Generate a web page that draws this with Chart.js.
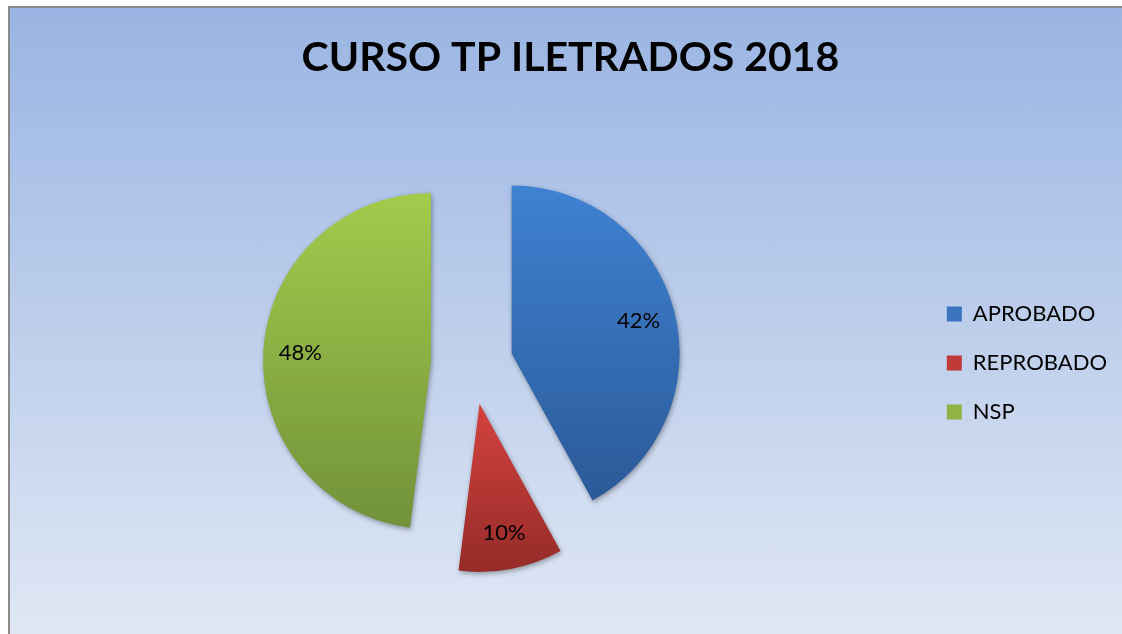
<!DOCTYPE html>
<html>
<head>
<meta charset="utf-8">
<script src="https://cdn.jsdelivr.net/npm/chart.js@4.4.1/dist/chart.umd.min.js"></script>
<style>
  html, body { margin: 0; padding: 0; overflow: hidden; background: #fff; }
  #frame {
    position: fixed; left: 8px; top: 6px; right: -30px; bottom: -30px;
    border-left: 2px solid #8a8a8a; border-top: 2px solid #8a8a8a;
    background: linear-gradient(to bottom, #9ab5e3 0%, #dfe7f4 95%);
  }
  #wrap { position: fixed; left: 10px; top: 8px; right: 0; bottom: 0; overflow: hidden; }
</style>
</head>
<body>
<div id="frame"></div>
<div id="wrap"><canvas id="myChart"></canvas></div>
<script>
const labels = ['APROBADO', 'REPROBADO', 'NSP']
const values = [42, 10, 48]
const percentLabels = ['42%', '10%', '48%']
const topColors = ['#3f82d2', '#d4423f', '#a3cb4c']
const bottomColors = ['#2b5a98', '#952b28', '#71923a']
const legendColors = ['#3a74bd', '#c23a37', '#8fb445']

const explode = 41
const pieRadius = 168
const labelPos = 0.78

function sliceAngles(i) {
  const total = values.reduce((a, b) => a + b, 0)
  let before = 0
  for (let k = 0; k < i; ++k) before += values[k]
  const start = -Math.PI / 2 + (before / total) * 2 * Math.PI
  const end = start + (values[i] / total) * 2 * Math.PI
  return { start, end }
}

// vertical gradient over the bounding box of each exploded slice
function sliceFill(context) {
  const i = context.dataIndex
  const chart = context.chart
  const area = chart.chartArea
  const ctrl = chart.getDatasetMeta(0).controller
  if (!area || !ctrl || !ctrl.outerRadius) return legendColors[i]
  const { start, end } = sliceAngles(i)
  const mid = (start + end) / 2
  const r = ctrl.outerRadius
  const cy = (area.top + area.bottom) / 2 + (ctrl.offsetY || 0) + Math.sin(mid) * explode
  const ys = [cy, cy + Math.sin(start) * r, cy + Math.sin(end) * r]
  for (const a of [-Math.PI / 2, Math.PI / 2, 1.5 * Math.PI]) {
    if (a >= start && a <= end) ys.push(cy + Math.sin(a) * r)
  }
  const g = chart.ctx.createLinearGradient(0, Math.min(...ys), 0, Math.max(...ys))
  g.addColorStop(0, topColors[i])
  g.addColorStop(1, bottomColors[i])
  return g
}

const explodePlugin = {
  id: 'explode',
  beforeDatasetDraw(chart, args) {
    const ctx = chart.ctx
    args.meta.data.forEach((arc) => {
      const mid = (arc.startAngle + arc.endAngle) / 2
      arc.x += Math.cos(mid) * explode
      arc.y += Math.sin(mid) * explode
    })
    ctx.save()
    ctx.shadowColor = 'rgba(0,0,0,0.35)'
    ctx.shadowBlur = 5
    ctx.shadowOffsetX = 1
    ctx.shadowOffsetY = 2
  },
  afterDatasetDraw(chart, args) {
    const ctx = chart.ctx
    ctx.restore()
    ctx.save()
    ctx.font = '22px Lato'
    ctx.fillStyle = '#000'
    ctx.textAlign = 'center'
    ctx.textBaseline = 'alphabetic'
    const asc = ctx.measureText('0').actualBoundingBoxAscent
    args.meta.data.forEach((arc, i) => {
      const mid = (arc.startAngle + arc.endAngle) / 2
      const d = arc.outerRadius * labelPos
      ctx.fillText(percentLabels[i], arc.x + Math.cos(mid) * d, arc.y + Math.sin(mid) * d + asc / 2)
      arc.x -= Math.cos(mid) * explode
      arc.y -= Math.sin(mid) * explode
    })
    ctx.restore()
  }
}

function initChart() {
  const ctx = document.getElementById('myChart')

  const data = {
    labels: labels,
    datasets: [
      {
        data: values,
        backgroundColor: sliceFill,
        borderWidth: 0,
        radius: pieRadius,
        clip: false
      }
    ]
  }

  const config = {
    type: 'pie',
    data: data,
    plugins: [explodePlugin],
    options: {
      responsive: false,
      animation: false,
      events: [],
      layout: {
        padding: { left: 14, right: 15, top: 0, bottom: 19 }
      },
      plugins: {
        title: {
          display: true,
          text: 'CURSO TP ILETRADOS 2018',
          color: '#000',
          font: { family: 'Lato', size: 41, weight: 'bold' },
          padding: { top: 25, bottom: 22 }
        },
        legend: {
          position: 'right',
          title: {
            display: true,
            text: ' ',
            color: '#000',
            font: { size: 1 },
            padding: { top: 94, bottom: 0 }
          },
          labels: {
            color: '#000',
            font: { family: 'Lato', size: 22 },
            boxWidth: 15,
            boxHeight: 15,
            padding: 27,
            generateLabels: () => labels.map((t, i) => ({
              text: t,
              fillStyle: legendColors[i],
              strokeStyle: 'rgba(0,0,0,0)',
              fontColor: '#000',
              lineWidth: 0,
              index: i
            }))
          }
        },
        tooltip: { enabled: false }
      }
    }
  }
  // eslint-disable-next-line no-undef
  new Chart(ctx, config)
}

const el = document.getElementById('myChart')
el.width = 1122
el.height = 634
initChart()
</script>
</body>
</html>
